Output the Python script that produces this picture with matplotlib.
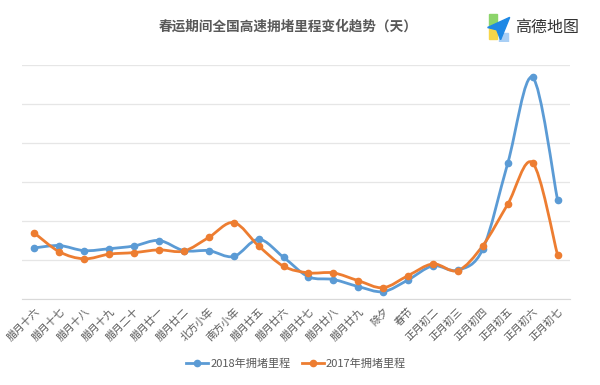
"""
Spring Festival highway congestion trend, 2018 vs 2017 (recreated chart).
"""

import numpy as np
import matplotlib
matplotlib.use("Agg")
import matplotlib.pyplot as plt
from matplotlib.path import Path
from matplotlib.patches import PathPatch, Polygon, Rectangle

plt.rcParams["font.family"] = ["Noto Sans CJK SC", "DejaVu Sans"]

# ---------------------------------------------------------------------------
# Data (y axis has no labels)
# ---------------------------------------------------------------------------
days = ["腊月十六", "腊月十七", "腊月十八", "腊月十九", "腊月二十", "腊月廿一",
        "腊月廿二", "北方小年", "南方小年", "腊月廿五", "腊月廿六", "腊月廿七",
        "腊月廿八", "腊月廿九", "除夕", "春节", "正月初二", "正月初三",
        "正月初四", "正月初五", "正月初六", "正月初七"]
jam_2018 = [1.31, 1.37, 1.24, 1.29, 1.36, 1.50, 1.24, 1.24, 1.09, 1.53, 1.07,
            0.57, 0.50, 0.32, 0.19, 0.49, 0.85, 0.74, 1.28, 3.48, 5.68, 2.54]
jam_2017 = [1.69, 1.21, 1.03, 1.15, 1.19, 1.26, 1.23, 1.58, 1.96, 1.36, 0.84,
            0.67, 0.67, 0.47, 0.29, 0.60, 0.90, 0.73, 1.37, 2.43, 3.49, 1.13]

BLUE = "#5B9BD5"
ORANGE = "#ED7D31"
GREY = "#595959"


def smooth_path(x, y, k=1 / 6):
    """Cubic Bezier path through the points (Excel-like smoothed line)."""
    x = np.asarray(x, float)
    y = np.asarray(y, float)
    n = len(x)
    verts = [(x[0], y[0])]
    codes = [Path.MOVETO]
    for i in range(n - 1):
        p0 = i - 1 if i > 0 else i
        p3 = i + 2 if i + 2 < n else i + 1
        c1 = (x[i] + (x[i + 1] - x[p0]) * k, y[i] + (y[i + 1] - y[p0]) * k)
        c2 = (x[i + 1] - (x[p3] - x[i]) * k, y[i + 1] - (y[p3] - y[i]) * k)
        verts += [c1, c2, (x[i + 1], y[i + 1])]
        codes += [Path.CURVE4] * 3
    return Path(verts, codes)


fig = plt.figure(figsize=(6.0, 3.85), dpi=100)
ax = fig.add_axes([22 / 600, 1 - 299 / 385, 548 / 600, 234 / 385])

xs = np.arange(len(days))
for vals, color, label in [(jam_2018, BLUE, "2018年拥堵里程"),
                           (jam_2017, ORANGE, "2017年拥堵里程")]:
    ax.add_patch(PathPatch(smooth_path(xs, vals), facecolor="none",
                           edgecolor=color, lw=2, zorder=3))
    ax.plot(xs, vals, color=color, lw=2, marker="o", ms=4.5, ls="none",
            zorder=4)
    ax.plot([], [], color=color, lw=2, marker="o", ms=4.5, label=label)

ax.set_xlim(-0.5, len(days) - 0.5)
ax.set_ylim(0, 6)
ax.set_yticks(range(0, 7))
ax.set_yticklabels([])
ax.tick_params(axis="y", length=0)
ax.grid(axis="y", color="#e6e6e6", lw=0.9)
ax.set_axisbelow(True)
for side in ["top", "right", "left"]:
    ax.spines[side].set_visible(False)
ax.spines["bottom"].set_color("#d9d9d9")

ax.set_xticks(xs)
ax.set_xticklabels(days, rotation=45, ha="right", rotation_mode="anchor",
                   fontsize=7.5, color=GREY)
ax.tick_params(axis="x", length=0, pad=5)

ax.legend(loc="center", bbox_to_anchor=(0.5, 1 - (364 - 65) / 234), ncol=2,
          frameon=False, fontsize=8, labelcolor=GREY, handlelength=2.0,
          handletextpad=0.2, columnspacing=1.0)

fig.text(0.48, 1 - 27 / 385, "春运期间全国高速拥堵里程变化趋势（天）",
         ha="center", va="center", fontsize=9.8, color=GREY,
         fontweight="bold")

# logo: simple paper-plane mark and name
logo = fig.add_axes([485 / 600, 1 - 42 / 385, 26 / 600, 29 / 385])
logo.set_xlim(0, 1)
logo.set_ylim(0, 1)
logo.axis("off")
logo.add_patch(Rectangle((0.15, 0.55), 0.3, 0.4, color="#8CD46A"))
logo.add_patch(Rectangle((0.15, 0.1), 0.3, 0.45, color="#F7D64A"))
logo.add_patch(Rectangle((0.55, 0.0), 0.35, 0.3, color="#A9CFF5"))
logo.add_patch(Polygon([(0.95, 0.85), (0.1, 0.5), (0.45, 0.42), (0.6, 0.08)],
                       color="#1E88E5"))
fig.text(515 / 600, 1 - 27 / 385, "高德地图", ha="left", va="center",
         fontsize=11.5, color="#333333")

fig.savefig("out.png", dpi=100)
